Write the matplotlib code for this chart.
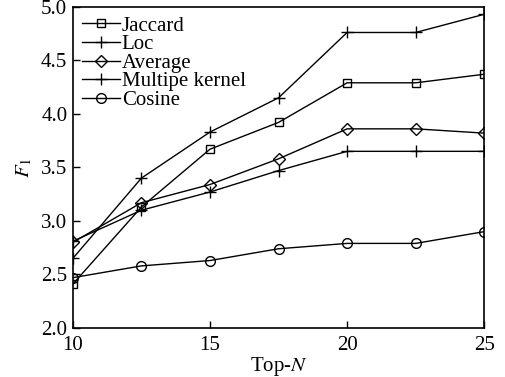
import matplotlib
matplotlib.use('Agg')
import matplotlib.pyplot as plt

top_n = [10, 12.5, 15, 17.5, 20, 22.5, 25]
jaccard = [2.41, 3.13, 3.67, 3.92, 4.29, 4.29, 4.37]
loc = [2.65, 3.40, 3.83, 4.15, 4.76, 4.76, 4.93]
average = [2.80, 3.17, 3.34, 3.58, 3.86, 3.86, 3.82]
multiple_kernel = [2.81, 3.10, 3.27, 3.47, 3.65, 3.65, 3.65]
cosine = [2.47, 2.58, 2.63, 2.74, 2.79, 2.79, 2.90]

plt.rcParams['font.family'] = ['Liberation Serif', 'DejaVu Serif']
plt.rcParams['mathtext.fontset'] = 'stix'

fig = plt.figure(figsize=(5.06, 3.77), dpi=100)
ax = fig.add_axes([0.144, 0.130, 0.813, 0.852])

style = dict(color='black', linewidth=1.0, markerfacecolor='none',
             markeredgecolor='black', markeredgewidth=1.0)
ax.plot(top_n, jaccard, marker='s', markersize=6, label='Jaccard', **style)
ax.plot(top_n, loc, marker='+', markersize=8, label='Loc', **style)
ax.plot(top_n, average, marker='D', markersize=6, label='Average', **style)
ax.plot(top_n, multiple_kernel, marker='+', markersize=8,
        label='Multipe kernel', **style)
ax.plot(top_n, cosine, marker='o', markersize=7, label='Cosine', **style)

ax.set_xlim(10, 25)
ax.set_ylim(2.0, 5.0)
ax.set_xticks([10, 15, 20, 25])
ax.set_yticks([2.0, 2.5, 3.0, 3.5, 4.0, 4.5, 5.0])
ax.set_yticklabels(['2.0', '2.5', '3.0', '3.5', '4.0', '4.5', '5.0'])
ax.tick_params(direction='in', labelsize=15, length=5, width=1,
               top=False, right=False)
ax.tick_params(axis='x', pad=6)
ax.tick_params(axis='y', pad=4)
for s in ax.spines.values():
    s.set_linewidth(1.2)

ax.set_xlabel('Top-$N$', fontsize=15, labelpad=0)
ax.set_ylabel('$F_1$', fontsize=15, labelpad=5)

ax.legend(loc='upper left', frameon=False, fontsize=15, handlelength=1.8,
          handletextpad=0.1, labelspacing=-0.05, borderaxespad=0.35,
          borderpad=0.1)

fig.savefig('out.png', dpi=100)
